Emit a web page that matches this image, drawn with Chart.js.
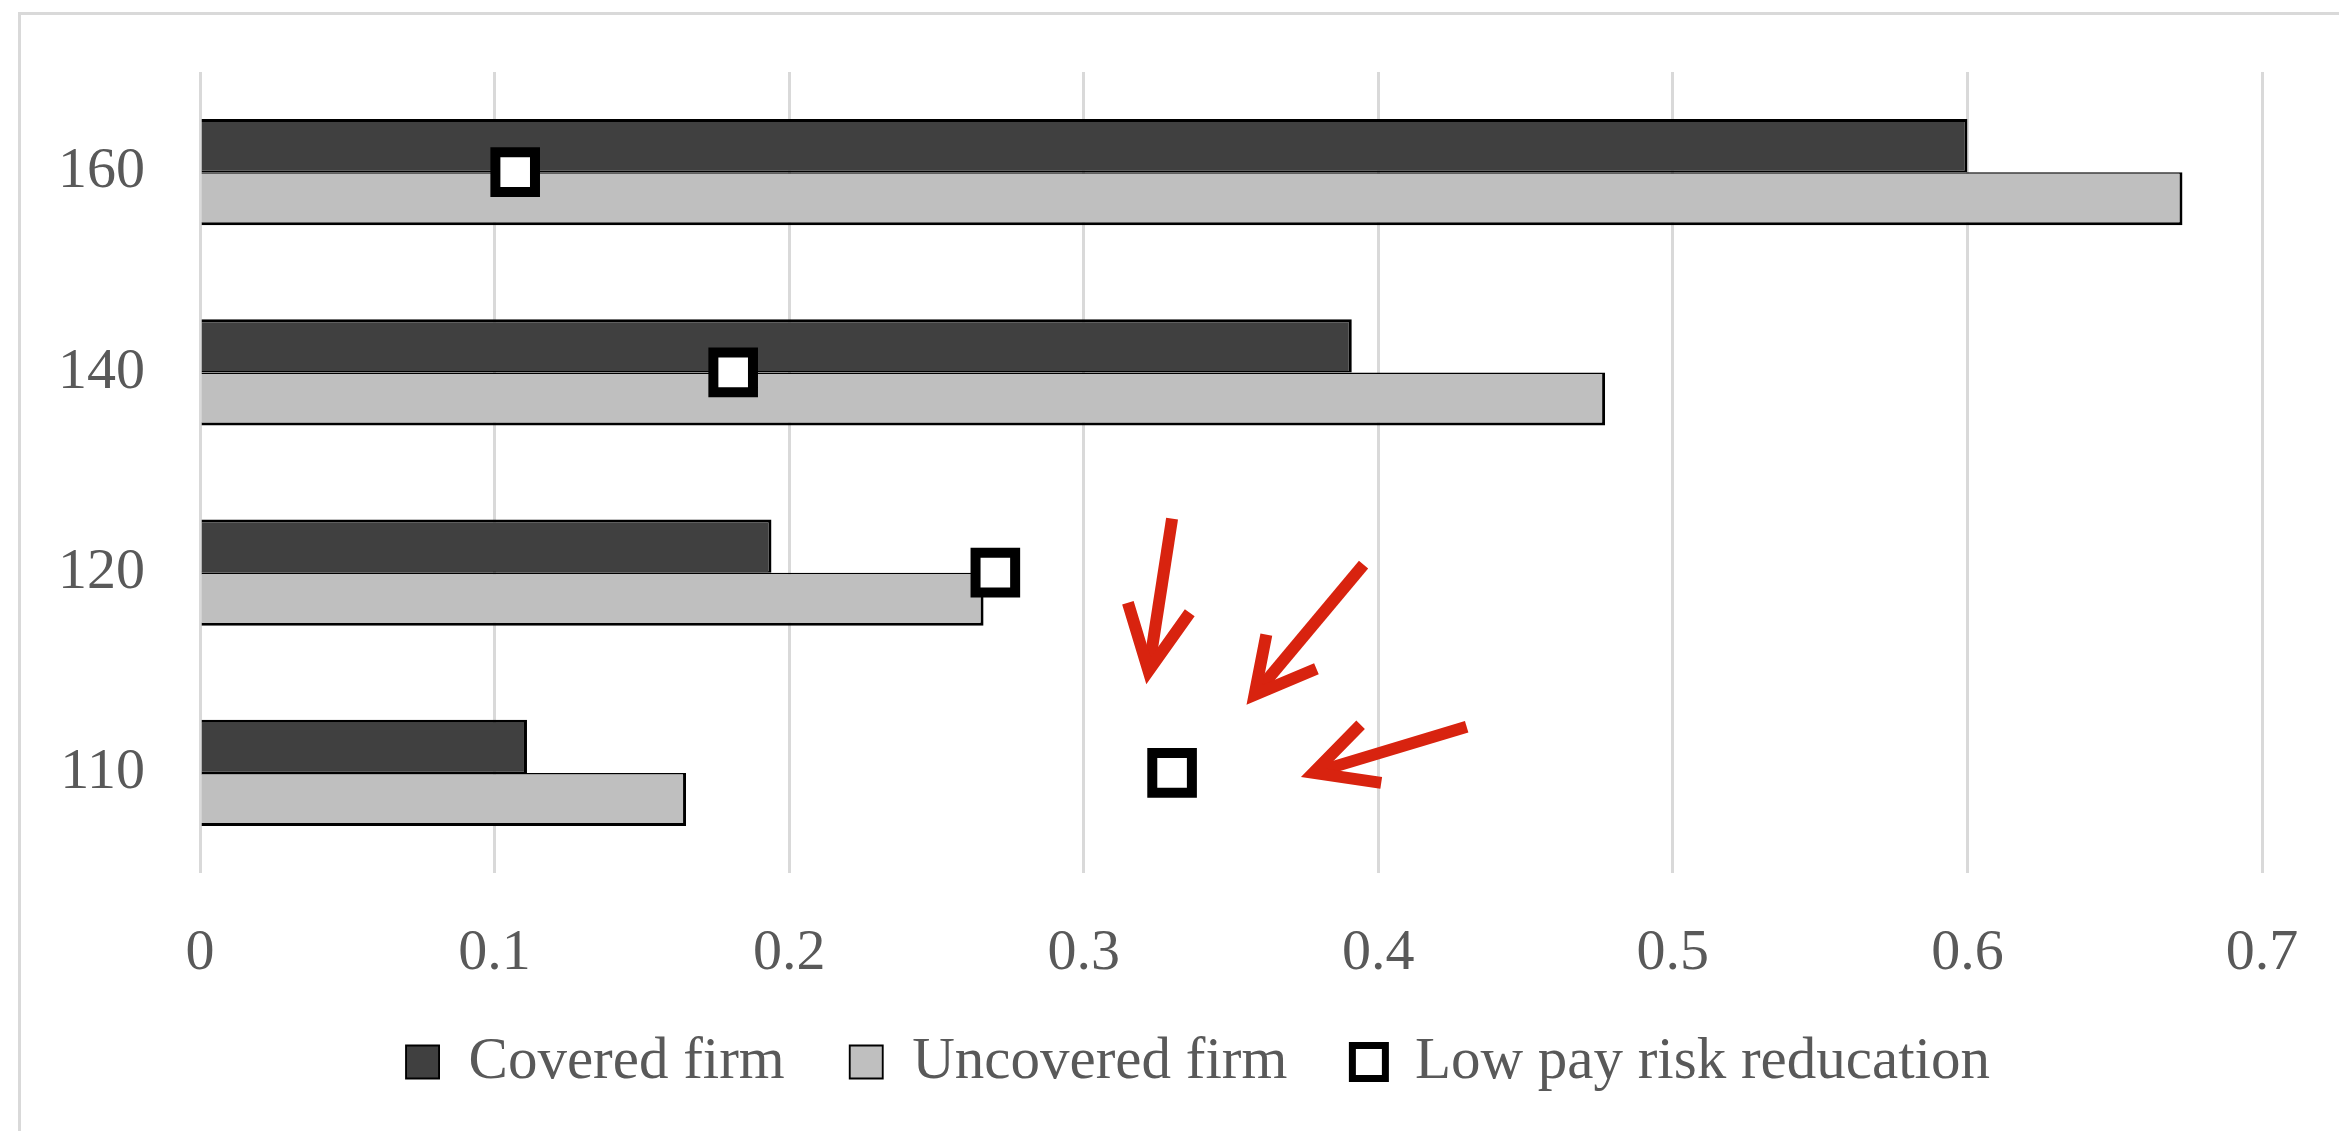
<!DOCTYPE html>
<html>
<head>
<meta charset="utf-8">
<script src="https://cdn.jsdelivr.net/npm/chart.js@4.4.0/dist/chart.umd.min.js"></script>
<style>
  html, body { margin: 0; padding: 0; background: #ffffff; overflow: hidden; }
  #frame { position: absolute; left: 18px; top: 12px; width: 2400px; height: 1200px;
           border-left: 3px solid #d9d9d9; border-top: 3px solid #d9d9d9; }
  #c { position: absolute; left: 0; top: 0; }
</style>
</head>
<body>
<div id="frame"></div>
<canvas id="c" width="2339" height="1131"></canvas>
<script>
const categories = ['160', '140', '120', '110'];
const coveredFirm = [0.600, 0.391, 0.194, 0.111];
const uncoveredFirm = [0.673, 0.477, 0.266, 0.165];
const lowPayRiskReduction = [0.107, 0.181, 0.270, 0.330];
const xTickLabels = ['0', '0.1', '0.2', '0.3', '0.4', '0.5', '0.6', '0.7'];
const seriesNames = ['Covered firm', 'Uncovered firm', 'Low pay risk reducation'];

// red hand-drawn arrows pointing at the 110 marker, in data units: [x value, category index]
const arrowTails = [[0.330, 1.73], [0.395, 1.96], [0.430, 2.77]];
const arrowTips = [[0.322, 2.49], [0.358, 2.61], [0.378, 3.00]];
const arrowWingsA = [[0.315, 2.15], [0.362, 2.31], [0.394, 2.76]];
const arrowWingsB = [[0.336, 2.20], [0.379, 2.48], [0.401, 3.05]];

Chart.defaults.font.family = "'Liberation Serif', 'DejaVu Serif', serif";
Chart.defaults.color = '#595959';

// place the legend row where the reference has it (centre x ~1198, text middle y ~1062)
const legendPlacer = {
  id: 'legendPlacer',
  afterLayout(chart) {
    const l = chart.legend;
    if (!l) return;
    const pad = l.options.labels.padding;
    const itemH = Math.max(l.options.labels.font.size, l.options.labels.boxHeight);
    const dx = 1198 - (l.left + l.right) / 2;
    const dy = (1062 - pad - itemH / 2) - l.top;
    l.left += dx; l.right += dx;
    l.top += dy; l.bottom += dy;
  }
};

const arrowAnnotations = {
  id: 'arrowAnnotations',
  afterDatasetsDraw(chart) {
    const {ctx, scales: {x, y}} = chart;
    const P = (p) => [x.getPixelForValue(p[0]), y.getPixelForValue(p[1])];
    ctx.save();
    ctx.strokeStyle = '#d8230f';
    ctx.lineWidth = 12;
    ctx.lineCap = 'butt';
    ctx.lineJoin = 'miter';
    for (let i = 0; i < arrowTails.length; i++) {
      const t = P(arrowTails[i]), h = P(arrowTips[i]), a = P(arrowWingsA[i]), b = P(arrowWingsB[i]);
      ctx.beginPath();
      ctx.moveTo(t[0], t[1]);
      ctx.lineTo(h[0], h[1]);
      ctx.stroke();
      ctx.beginPath();
      ctx.moveTo(a[0], a[1]);
      ctx.lineTo(h[0], h[1]);
      ctx.lineTo(b[0], b[1]);
      ctx.stroke();
    }
    ctx.restore();
  }
};

new Chart(document.getElementById('c'), {
  type: 'bar',
  data: {
    labels: categories,
    datasets: [
      {
        label: seriesNames[0],
        data: coveredFirm,
        backgroundColor: '#404040',
        borderColor: '#000000',
        borderWidth: { top: 3, right: 3, bottom: 1.5, left: 0 },
        categoryPercentage: 0.53,
        barPercentage: 1.0,
        order: 1
      },
      {
        label: seriesNames[1],
        data: uncoveredFirm,
        backgroundColor: '#bfbfbf',
        borderColor: '#000000',
        borderWidth: { top: 1.5, right: 3, bottom: 3, left: 0 },
        categoryPercentage: 0.53,
        barPercentage: 1.0,
        order: 2
      },
      {
        type: 'line',
        label: seriesNames[2],
        data: lowPayRiskReduction,
        showLine: false,
        backgroundColor: '#ffffff',
        borderColor: '#000000',
        borderWidth: 7,
        pointStyle: 'rect',
        pointRadius: 28,
        pointHoverRadius: 28,
        pointBackgroundColor: '#ffffff',
        pointBorderColor: '#000000',
        pointBorderWidth: 10,
        pointHoverBorderWidth: 10,
        order: 0
      }
    ]
  },
  plugins: [legendPlacer, arrowAnnotations],
  options: {
    indexAxis: 'y',
    responsive: false,
    animation: false,
    devicePixelRatio: 1,
    layout: { padding: { left: 30, right: 77, top: 72, bottom: 0 } },
    plugins: {
      tooltip: { enabled: false },
      legend: {
        position: 'bottom',
        align: 'center',
        labels: {
          boxWidth: 33,
          boxHeight: 33,
          padding: 65,
          color: '#595959',
          font: { size: 59 },
          sort: (a, b) => a.datasetIndex - b.datasetIndex
        }
      }
    },
    scales: {
      x: {
        type: 'linear',
        min: 0,
        max: 0.7,
        ticks: {
          stepSize: 0.1,
          padding: 10,
          color: '#595959',
          font: { size: 58 },
          maxRotation: 0,
          callback: (v, i) => xTickLabels[i]
        },
        grid: { color: '#d9d9d9', lineWidth: 3, drawTicks: true, tickLength: 36, tickColor: 'rgba(0,0,0,0)' },
        border: { display: false },
        afterFit: (s) => { s.height = 124; }
      },
      y: {
        type: 'category',
        ticks: {
          padding: 30,
          color: '#595959',
          font: { size: 58 }
        },
        grid: { display: false, drawTicks: true, tickLength: 25 },
        border: { display: false },
        afterFit: (s) => { s.width = 170; }
      }
    }
  }
});
</script>
</body>
</html>
